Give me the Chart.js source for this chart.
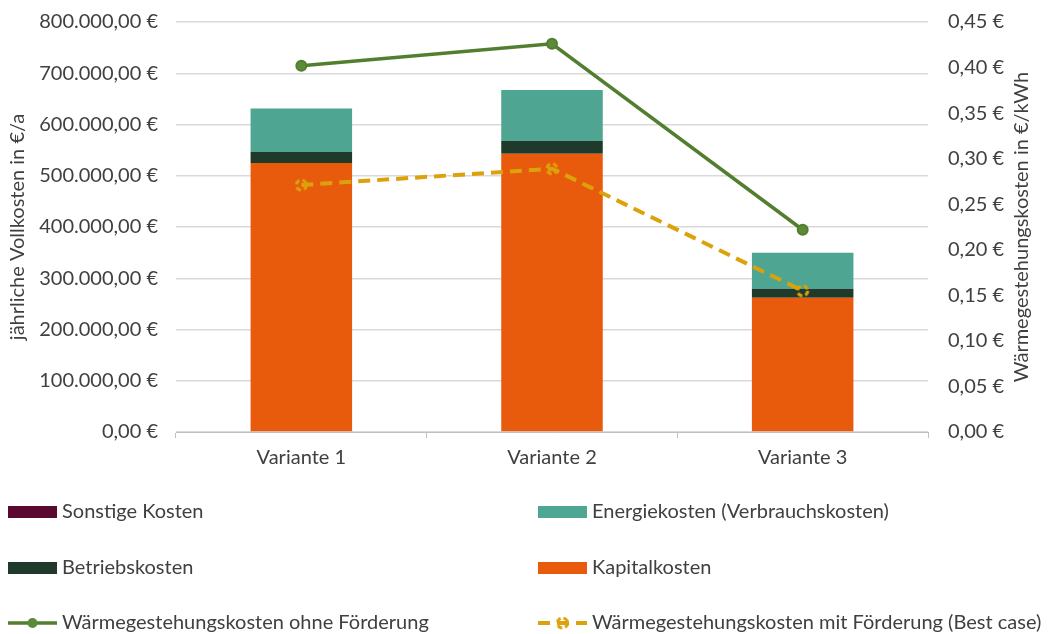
<!DOCTYPE html>
<html lang="de">
<head>
<meta charset="utf-8">
<script src="https://cdn.jsdelivr.net/npm/chart.js@4"></script>
<style>
    html, body { margin: 0; padding: 0; background: #ffffff; }
    #wrap { width: 1052px; height: 634px; position: relative; }
</style>
</head>
<body>
<div id="wrap"><canvas id="kostenChart"></canvas></div>
<script>
// Kategorien und Werte
const varianten = ['Variante 1', 'Variante 2', 'Variante 3'];
const kapitalkosten = [525000, 543000, 262000];
const betriebskosten = [21500, 25000, 17500];
const energiekosten = [84500, 99500, 70500];
const sonstigeKosten = [0, 0, 0];
const wgkOhneFoerderung = [0.402, 0.426, 0.222];
const wgkMitFoerderung = [0.271, 0.289, 0.155];

const FONT = 'Lato, "Open Sans", sans-serif';
const TEXT = '#404040';
const FS = 20;

const euro2 = v => v.toLocaleString('de-DE', { minimumFractionDigits: 2, maximumFractionDigits: 2 }) + ' €';

// gestrichelter Kreis als Markierung für die Linie mit Förderung
function dashedMarker(color) {
    const c = document.createElement('canvas');
    c.width = 16; c.height = 16;
    const g = c.getContext('2d');
    g.strokeStyle = color;
    g.lineWidth = 3;
    g.setLineDash([5, 3]);
    g.beginPath();
    g.arc(8, 8, 5, 0, Math.PI * 2);
    g.stroke();
    return c;
}
const gelbMarker = dashedMarker('#dca20c');

// rechter Achsentitel, von unten nach oben gelesen
const rechterTitel = {
    id: 'rechterTitel',
    afterDraw(chart) {
        const ctx = chart.ctx;
        const a = chart.chartArea;
        ctx.save();
        ctx.translate(1022, (a.top + a.bottom) / 2);
        ctx.rotate(-Math.PI / 2);
        ctx.font = FS + 'px ' + FONT;
        ctx.fillStyle = TEXT;
        ctx.textAlign = 'center';
        ctx.textBaseline = 'middle';
        ctx.fillText('Wärmegestehungskosten in €/kWh', 0, 0);
        ctx.restore();
    }
};

// Legende unten, zweispaltig
const legendePlugin = {
    id: 'legendeUnten',
    afterDraw(chart) {
        const ctx = chart.ctx;
        const reihenfolge = [3, 2, 1, 0, 4, 5];
        const spalten = [8, 538];
        const zeilen = [512, 568, 623];
        ctx.save();
        ctx.font = FS + 'px ' + FONT;
        ctx.textBaseline = 'middle';
        ctx.textAlign = 'left';
        reihenfolge.forEach((idx, i) => {
            const ds = chart.data.datasets[idx];
            const x = spalten[i % 2];
            const y = zeilen[Math.floor(i / 2)];
            if (ds.type === 'line') {
                ctx.strokeStyle = ds.borderColor;
                ctx.lineWidth = ds.borderWidth;
                ctx.setLineDash(ds.borderDash || []);
                ctx.beginPath();
                ctx.moveTo(x, y); ctx.lineTo(x + 49, y);
                ctx.stroke();
                ctx.setLineDash([]);
                if (ds.pointStyle instanceof HTMLCanvasElement) {
                    ctx.drawImage(ds.pointStyle, x + 24.5 - 8, y - 8);
                } else {
                    ctx.fillStyle = ds.pointBackgroundColor;
                    ctx.beginPath();
                    ctx.arc(x + 24.5, y, 5, 0, Math.PI * 2);
                    ctx.fill();
                }
            } else {
                ctx.fillStyle = ds.backgroundColor;
                ctx.fillRect(x, y - 6, 49, 12);
            }
            ctx.fillStyle = TEXT;
            ctx.fillText(ds.label, x + 54, y);
        });
        ctx.restore();
    }
};

const canvas = document.getElementById('kostenChart');
canvas.width = 1052; canvas.height = 634;

// Achsenbreiten fest, ohne Zusatzabstand oben/unten
const festeBreite = w => s => { s.width = w; s.paddingTop = 0; s.paddingBottom = 0; };

new Chart(canvas, {
    data: {
        labels: varianten,
        datasets: [
            { type: 'bar', label: 'Kapitalkosten', data: kapitalkosten, backgroundColor: '#e95b0c', yAxisID: 'y', stack: 'k', order: 2 },
            { type: 'bar', label: 'Betriebskosten', data: betriebskosten, backgroundColor: '#1f3a2b', yAxisID: 'y', stack: 'k', order: 2 },
            { type: 'bar', label: 'Energiekosten (Verbrauchskosten)', data: energiekosten, backgroundColor: '#4ea591', yAxisID: 'y', stack: 'k', order: 2 },
            { type: 'bar', label: 'Sonstige Kosten', data: sonstigeKosten, backgroundColor: '#5a0a2e', yAxisID: 'y', stack: 'k', order: 2 },
            {
                type: 'line', label: 'Wärmegestehungskosten ohne Förderung', data: wgkOhneFoerderung,
                yAxisID: 'y1', borderColor: '#527f2f', borderWidth: 3.5,
                pointRadius: 5, pointBackgroundColor: '#5b8a38', pointBorderColor: '#527f2f', pointBorderWidth: 2,
                order: 0
            },
            {
                type: 'line', label: 'Wärmegestehungskosten mit Förderung (Best case)', data: wgkMitFoerderung,
                yAxisID: 'y1', borderColor: '#dca20c', borderWidth: 4, borderDash: [12, 7],
                pointStyle: gelbMarker, pointRadius: 6,
                order: 1
            }
        ]
    },
    options: {
        responsive: false,
        animation: false,
        devicePixelRatio: 1,
        layout: { padding: { top: 22, bottom: 154, left: 0, right: 0 } },
        plugins: { legend: { display: false }, tooltip: { enabled: false } },
        datasets: { bar: { barPercentage: 0.81, categoryPercentage: 0.5 } },
        scales: {
            x: {
                stacked: true,
                offset: true,
                grid: { offset: true, drawOnChartArea: false, color: '#bfbfbf', tickLength: 6, lineWidth: 1 },
                border: { color: '#bfbfbf', width: 1 },
                ticks: { color: TEXT, font: { family: FONT, size: FS }, padding: 8 },
                afterFit: s => { s.height = 48; }
            },
            y: {
                position: 'left',
                stacked: true,
                min: 0, max: 800000,
                ticks: { stepSize: 100000, color: TEXT, font: { family: FONT, size: FS }, padding: 18, callback: v => euro2(v) },
                grid: { color: '#d9d9d9', lineWidth: 1.5, drawTicks: false },
                border: { display: false },
                title: { display: true, text: 'jährliche Vollkosten in €/a', color: TEXT, font: { family: FONT, size: FS }, padding: { top: 6, bottom: 0 } },
                afterFit: festeBreite(176)
            },
            y1: {
                position: 'right',
                min: 0, max: 0.45,
                ticks: { stepSize: 0.05, color: TEXT, font: { family: FONT, size: FS }, padding: 20, callback: v => euro2(v) },
                grid: { drawOnChartArea: false, drawTicks: false },
                border: { display: false },
                afterFit: festeBreite(124)
            }
        }
    },
    plugins: [legendePlugin, rechterTitel]
});
</script>
</body>
</html>
